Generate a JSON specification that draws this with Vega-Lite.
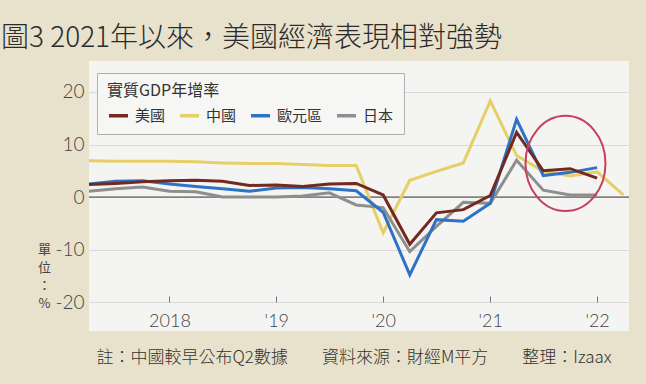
{
  "$schema": "https://vega.github.io/schema/vega-lite/v6.json",
  "width": 540,
  "height": 270,
  "autosize": {"type": "none"},
  "padding": {"left": 89, "top": 61, "right": 17, "bottom": 53},
  "background": "#e8e1cb",
  "view": {"fill": "#f4f4f2", "stroke": null},
  "config": {"font": "Noto Sans CJK TC"},
  "title": {
    "text": "圖3 2021年以來，美國經濟表現相對強勢",
    "anchor": "start",
    "frame": "group",
    "dx": -88,
    "offset": 8,
    "font": "Noto Sans CJK TC",
    "fontSize": 28,
    "fontWeight": 300,
    "color": "#2b2b2b"
  },
  "datasets": {
    "gdp": [
      {"q": "2017-04-01", "country": "中國", "v": 6.9},
      {"q": "2017-07-01", "country": "中國", "v": 6.8},
      {"q": "2017-10-01", "country": "中國", "v": 6.8},
      {"q": "2018-01-01", "country": "中國", "v": 6.8},
      {"q": "2018-04-01", "country": "中國", "v": 6.7},
      {"q": "2018-07-01", "country": "中國", "v": 6.5},
      {"q": "2018-10-01", "country": "中國", "v": 6.4},
      {"q": "2019-01-01", "country": "中國", "v": 6.4},
      {"q": "2019-04-01", "country": "中國", "v": 6.2},
      {"q": "2019-07-01", "country": "中國", "v": 6.0},
      {"q": "2019-10-01", "country": "中國", "v": 6.0},
      {"q": "2020-01-01", "country": "中國", "v": -6.8},
      {"q": "2020-04-01", "country": "中國", "v": 3.2},
      {"q": "2020-07-01", "country": "中國", "v": 4.9},
      {"q": "2020-10-01", "country": "中國", "v": 6.5},
      {"q": "2021-01-01", "country": "中國", "v": 18.3},
      {"q": "2021-04-01", "country": "中國", "v": 7.9},
      {"q": "2021-07-01", "country": "中國", "v": 4.9},
      {"q": "2021-10-01", "country": "中國", "v": 4.0},
      {"q": "2022-01-01", "country": "中國", "v": 4.8},
      {"q": "2022-04-01", "country": "中國", "v": 0.4},
      {"q": "2017-04-01", "country": "日本", "v": 1.1},
      {"q": "2017-07-01", "country": "日本", "v": 1.6},
      {"q": "2017-10-01", "country": "日本", "v": 1.9},
      {"q": "2018-01-01", "country": "日本", "v": 1.1},
      {"q": "2018-04-01", "country": "日本", "v": 1.0},
      {"q": "2018-07-01", "country": "日本", "v": 0.0},
      {"q": "2018-10-01", "country": "日本", "v": 0.0},
      {"q": "2019-01-01", "country": "日本", "v": 0.0},
      {"q": "2019-04-01", "country": "日本", "v": 0.2},
      {"q": "2019-07-01", "country": "日本", "v": 0.8},
      {"q": "2019-10-01", "country": "日本", "v": -1.5},
      {"q": "2020-01-01", "country": "日本", "v": -2.0},
      {"q": "2020-04-01", "country": "日本", "v": -10.4},
      {"q": "2020-07-01", "country": "日本", "v": -5.6},
      {"q": "2020-10-01", "country": "日本", "v": -1.0},
      {"q": "2021-01-01", "country": "日本", "v": -1.2},
      {"q": "2021-04-01", "country": "日本", "v": 7.0},
      {"q": "2021-07-01", "country": "日本", "v": 1.3},
      {"q": "2021-10-01", "country": "日本", "v": 0.4},
      {"q": "2022-01-01", "country": "日本", "v": 0.4},
      {"q": "2017-04-01", "country": "歐元區", "v": 2.5},
      {"q": "2017-07-01", "country": "歐元區", "v": 3.0},
      {"q": "2017-10-01", "country": "歐元區", "v": 3.1},
      {"q": "2018-01-01", "country": "歐元區", "v": 2.5},
      {"q": "2018-04-01", "country": "歐元區", "v": 2.0},
      {"q": "2018-07-01", "country": "歐元區", "v": 1.6},
      {"q": "2018-10-01", "country": "歐元區", "v": 1.1},
      {"q": "2019-01-01", "country": "歐元區", "v": 1.7},
      {"q": "2019-04-01", "country": "歐元區", "v": 1.8},
      {"q": "2019-07-01", "country": "歐元區", "v": 1.6},
      {"q": "2019-10-01", "country": "歐元區", "v": 1.2},
      {"q": "2020-01-01", "country": "歐元區", "v": -2.9},
      {"q": "2020-04-01", "country": "歐元區", "v": -14.8},
      {"q": "2020-07-01", "country": "歐元區", "v": -4.3},
      {"q": "2020-10-01", "country": "歐元區", "v": -4.6},
      {"q": "2021-01-01", "country": "歐元區", "v": -1.2},
      {"q": "2021-04-01", "country": "歐元區", "v": 14.8},
      {"q": "2021-07-01", "country": "歐元區", "v": 4.1},
      {"q": "2021-10-01", "country": "歐元區", "v": 4.7},
      {"q": "2022-01-01", "country": "歐元區", "v": 5.6},
      {"q": "2017-04-01", "country": "美國", "v": 2.4},
      {"q": "2017-07-01", "country": "美國", "v": 2.6},
      {"q": "2017-10-01", "country": "美國", "v": 2.9},
      {"q": "2018-01-01", "country": "美國", "v": 3.1},
      {"q": "2018-04-01", "country": "美國", "v": 3.2},
      {"q": "2018-07-01", "country": "美國", "v": 3.0},
      {"q": "2018-10-01", "country": "美國", "v": 2.2},
      {"q": "2019-01-01", "country": "美國", "v": 2.3},
      {"q": "2019-04-01", "country": "美國", "v": 2.0},
      {"q": "2019-07-01", "country": "美國", "v": 2.5},
      {"q": "2019-10-01", "country": "美國", "v": 2.6},
      {"q": "2020-01-01", "country": "美國", "v": 0.4},
      {"q": "2020-04-01", "country": "美國", "v": -9.0},
      {"q": "2020-07-01", "country": "美國", "v": -3.0},
      {"q": "2020-10-01", "country": "美國", "v": -2.4},
      {"q": "2021-01-01", "country": "美國", "v": 0.3},
      {"q": "2021-04-01", "country": "美國", "v": 12.3},
      {"q": "2021-07-01", "country": "美國", "v": 5.0},
      {"q": "2021-10-01", "country": "美國", "v": 5.4},
      {"q": "2022-01-01", "country": "美國", "v": 3.6}
    ],
    "zero": [{"v": 0}],
    "circle": [{"q": "2021-09-15", "v": 6.4}]
  },
  "layer": [
    {
      "data": {"name": "zero"},
      "mark": {"type": "rule", "color": "#3a3a3a", "strokeWidth": 1},
      "encoding": {"y": {"field": "v", "type": "quantitative"}}
    },
    {
      "data": {"name": "gdp"},
      "mark": {"type": "line", "strokeWidth": 3, "strokeJoin": "miter", "clip": false},
      "encoding": {
        "x": {
          "field": "q",
          "type": "temporal",
          "scale": {"domain": [{"year": 2017, "month": 4, "date": 1}, {"year": 2022, "month": 4, "date": 20}]},
          "axis": {
            "values": [
              {"year": 2018, "month": 1, "date": 1},
              {"year": 2019, "month": 1, "date": 1},
              {"year": 2020, "month": 1, "date": 1},
              {"year": 2021, "month": 1, "date": 1},
              {"year": 2022, "month": 1, "date": 1}
            ],
            "labelExpr": "year(datum.value) == 2018 ? '2018' : \"'\" + timeFormat(datum.value, '%y')",
            "grid": false,
            "domain": false,
            "ticks": true,
            "tickSize": -6,
            "tickColor": "#777",
            "tickWidth": 1,
            "offset": -29,
            "labelFont": "Lato",
            "labelFontSize": 18,
            "labelFontWeight": 300,
            "labelColor": "#444",
            "labelPadding": 16,
            "labelBaseline": "top",
            "title": "註：中國較早公布Q2數據　　資料來源：財經M平方　　整理：Izaax",
            "titleFont": "Noto Sans CJK TC",
            "titleFontSize": 17,
            "titleFontWeight": 300,
            "titleColor": "#333",
            "titleAnchor": "start",
            "titleAlign": "left",
            "titleBaseline": "middle",
            "titleX": 7,
            "titleY": 55
          }
        },
        "y": {
          "field": "v",
          "type": "quantitative",
          "scale": {"domain": [-25.5, 25.9], "nice": false, "zero": false},
          "axis": {
            "values": [-20, -15, -10, -5, 0, 5, 10, 15, 20],
            "labelExpr": "datum.value < 0 ? '-' + abs(datum.value) : '' + datum.value",
            "grid": true,
            "gridColor": "#dadada",
            "gridWidth": 1,
            "domain": false,
            "ticks": false,
            "labelFont": "Lato",
            "labelFontSize": 19,
            "labelFontWeight": 300,
            "labelColor": "#444",
            "labelPadding": 5,
            "title": ["單", "位", "：", "%"],
            "titleAngle": 0,
            "titleFont": "Noto Sans CJK TC",
            "titleFontSize": 13,
            "titleFontWeight": "normal",
            "titleColor": "#444",
            "titleLineHeight": 18,
            "titleAlign": "center",
            "titleBaseline": "top",
            "titleX": -45,
            "titleY": 182
          }
        },
        "color": {
          "field": "country",
          "type": "nominal",
          "scale": {
            "domain": ["美國", "中國", "歐元區", "日本"],
            "range": ["#72291f", "#e6cf66", "#2e72c6", "#8e8e8e"]
          },
          "legend": {
            "title": "實質GDP年增率",
            "orient": "none",
            "legendX": 8,
            "legendY": 12,
            "direction": "horizontal",
            "columns": 4,
            "gridAlign": "each",
            "symbolType": "stroke",
            "symbolSize": 361,
            "symbolStrokeWidth": 3.5,
            "labelFont": "Noto Sans CJK TC",
            "labelFontSize": 15,
            "labelColor": "#333",
            "labelOffset": 5,
            "columnPadding": 7,
            "titleFont": "Noto Sans CJK TC",
            "titleFontSize": 16,
            "titleFontWeight": "normal",
            "titleColor": "#333",
            "titlePadding": 5,
            "padding": 10,
            "fillColor": "#f6f6f4",
            "strokeColor": "#b0b0b0",
            "cornerRadius": 0
          }
        }
      }
    },
    {
      "data": {"name": "circle"},
      "mark": {
        "type": "point",
        "shape": "M -1 0 A 1 1.19 0 1 1 1 0 A 1 1.19 0 1 1 -1 0 Z",
        "size": 6400,
        "filled": false,
        "stroke": "#c83f5f",
        "strokeWidth": 2,
        "opacity": 1
      },
      "encoding": {
        "x": {"field": "q", "type": "temporal"},
        "y": {"field": "v", "type": "quantitative"}
      }
    }
  ]
}
